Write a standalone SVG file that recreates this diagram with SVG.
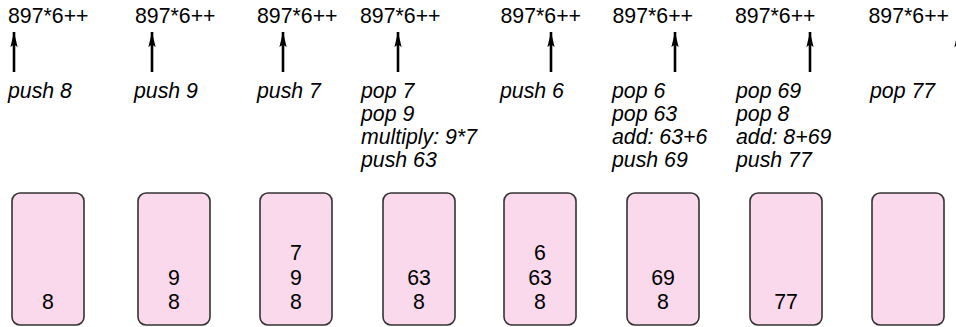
<svg xmlns="http://www.w3.org/2000/svg" width="956" height="327" viewBox="0 0 956 327">
<defs>
<style>
text{font-family:"Liberation Sans",Arial,sans-serif;font-size:21.3px;fill:#000}
.ins{font-style:italic}
.box{fill:#f9d9eb;stroke:#333;stroke-width:1.6}
.num{text-anchor:middle}
.arr{stroke:#000;stroke-width:2.6;fill:none}
</style>
<marker id="ah" markerUnits="userSpaceOnUse" markerWidth="16" markerHeight="8" refX="15" refY="4" orient="auto" viewBox="0 0 16 8">
<path d="M15,4 L0,0.4 L2.5,4 L0,7.6 Z" fill="#000"/>
</marker>
</defs>
<rect width="956" height="327" fill="#fff"/>
<g id="connectors">
<line class="arr" x1="14" y1="72" x2="14" y2="32" marker-end="url(#ah)"/>
<line class="arr" x1="152" y1="72" x2="152" y2="32" marker-end="url(#ah)"/>
<line class="arr" x1="283" y1="72" x2="283" y2="32" marker-end="url(#ah)"/>
<line class="arr" x1="398" y1="72" x2="398" y2="32" marker-end="url(#ah)"/>
<line class="arr" x1="551" y1="72" x2="551" y2="32" marker-end="url(#ah)"/>
<line class="arr" x1="675" y1="72" x2="675" y2="32" marker-end="url(#ah)"/>
<line class="arr" x1="810" y1="72" x2="810" y2="32" marker-end="url(#ah)"/>
<line class="arr" x1="958" y1="72" x2="958" y2="32" marker-end="url(#ah)"/>
</g>
<g id="step1">
<text x="8" y="22.5">897*6++</text>
<text class="ins" x="8" y="98">push 8</text>
<rect class="box" x="12" y="193" width="72" height="132" rx="8"/>
<text class="num" x="48" y="309">8</text>
</g>
<g id="step2">
<text x="135" y="22.5">897*6++</text>
<text class="ins" x="134" y="98">push 9</text>
<rect class="box" x="138" y="193" width="72" height="132" rx="8"/>
<text class="num" x="174" y="284.5">9</text>
<text class="num" x="174" y="309">8</text>
</g>
<g id="step3">
<text x="257" y="22.5">897*6++</text>
<text class="ins" x="257" y="98">push 7</text>
<rect class="box" x="260" y="193" width="72" height="132" rx="8"/>
<text class="num" x="296" y="260">7</text>
<text class="num" x="296" y="284.5">9</text>
<text class="num" x="296" y="309">8</text>
</g>
<g id="step4">
<text x="360" y="22.5">897*6++</text>
<text class="ins" x="361" y="98">pop 7</text>
<text class="ins" x="361" y="121">pop 9</text>
<text class="ins" x="361" y="144">multiply: 9*7</text>
<text class="ins" x="361" y="167">push 63</text>
<rect class="box" x="383" y="193" width="72" height="132" rx="8"/>
<text class="num" x="419" y="284.5">63</text>
<text class="num" x="419" y="309">8</text>
</g>
<g id="step5">
<text x="500.5" y="22.5">897*6++</text>
<text class="ins" x="500" y="98">push 6</text>
<rect class="box" x="504" y="193" width="72" height="132" rx="8"/>
<text class="num" x="540" y="260">6</text>
<text class="num" x="540" y="284.5">63</text>
<text class="num" x="540" y="309">8</text>
</g>
<g id="step6">
<text x="612.5" y="22.5">897*6++</text>
<text class="ins" x="612" y="98">pop 6</text>
<text class="ins" x="612" y="121">pop 63</text>
<text class="ins" x="612" y="144">add: 63+6</text>
<text class="ins" x="612" y="167">push 69</text>
<rect class="box" x="627" y="193" width="72" height="132" rx="8"/>
<text class="num" x="663" y="284.5">69</text>
<text class="num" x="663" y="309">8</text>
</g>
<g id="step7">
<text x="735" y="22.5">897*6++</text>
<text class="ins" x="736" y="98">pop 69</text>
<text class="ins" x="736" y="121">pop 8</text>
<text class="ins" x="736" y="144">add: 8+69</text>
<text class="ins" x="736" y="167">push 77</text>
<rect class="box" x="750" y="193" width="72" height="132" rx="8"/>
<text class="num" x="786" y="309">77</text>
</g>
<g id="step8">
<text x="868.5" y="22.5">897*6++</text>
<text class="ins" x="870" y="98">pop 77</text>
<rect class="box" x="872" y="193" width="72" height="132" rx="8"/>
</g>
</svg>
